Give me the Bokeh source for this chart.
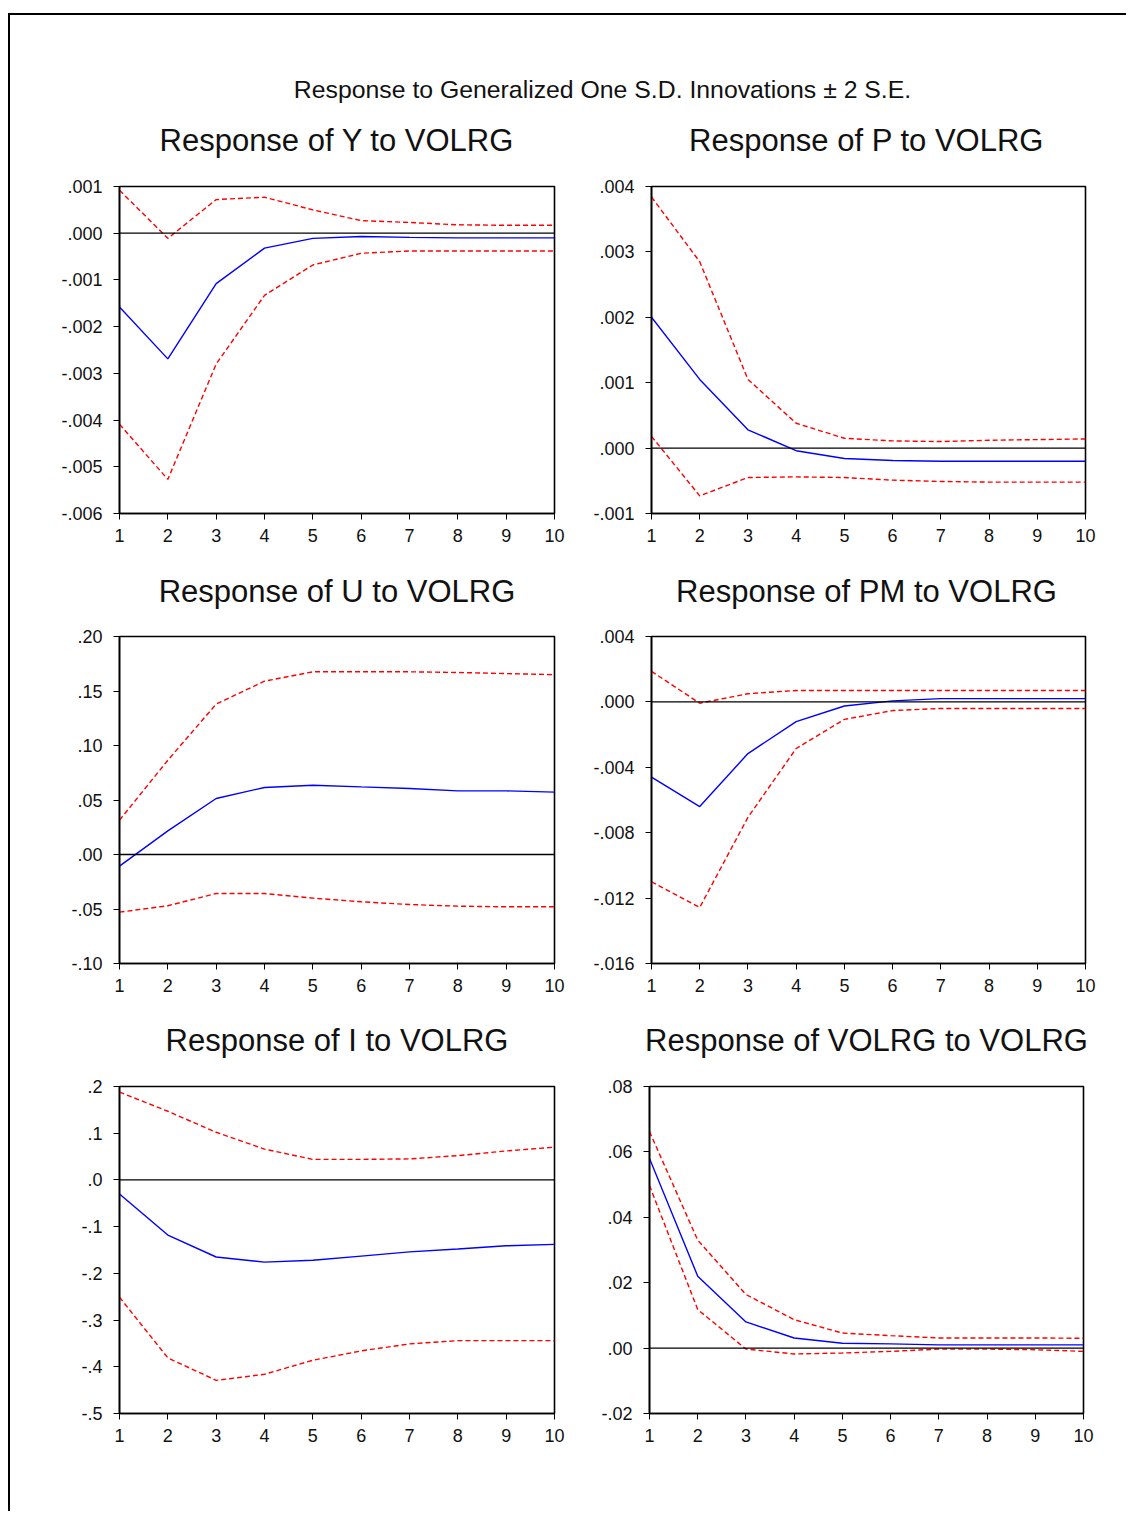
from bokeh.plotting import figure
from bokeh.models import Range1d, FixedTicker, Span, Label
from bokeh.layouts import column, row
from bokeh.embed import file_html
from bokeh.resources import INLINE

# ---------------- data ----------------
periods = [1, 2, 3, 4, 5, 6, 7, 8, 9, 10]
x_tick_labels = ["1", "2", "3", "4", "5", "6", "7", "8", "9", "10"]

suptitle = "Response to Generalized One S.D. Innovations \u00b1 2 S.E."

titles = ["Response of Y to VOLRG", "Response of P to VOLRG",
          "Response of U to VOLRG", "Response of PM to VOLRG",
          "Response of I to VOLRG", "Response of VOLRG to VOLRG"]

# Response of Y
y_resp = [-0.00158, -0.00269, -0.00108, -0.00032, -0.00011, -0.00007, -0.00009, -0.00010, -0.00010, -0.00010]
y_upper = [0.00092, -0.00011, 0.00072, 0.00077, 0.00050, 0.00027, 0.00023, 0.00018, 0.00017, 0.00017]
y_lower = [-0.00409, -0.00527, -0.00280, -0.00133, -0.00068, -0.00043, -0.00038, -0.00038, -0.00038, -0.00038]
y_ticks = [-0.006, -0.005, -0.004, -0.003, -0.002, -0.001, 0.0, 0.001]
y_labels = ["-.006", "-.005", "-.004", "-.003", "-.002", "-.001", ".000", ".001"]

# Response of P
p_resp = [0.00200, 0.00105, 0.00028, -0.00004, -0.00016, -0.00019, -0.00020, -0.00020, -0.00020, -0.00020]
p_upper = [0.00384, 0.00285, 0.00105, 0.00038, 0.00015, 0.00011, 0.00010, 0.00012, 0.00013, 0.00014]
p_lower = [0.00018, -0.00073, -0.00045, -0.00044, -0.00045, -0.00049, -0.00051, -0.00052, -0.00052, -0.00052]
p_ticks = [-0.001, 0.0, 0.001, 0.002, 0.003, 0.004]
p_labels = ["-.001", ".000", ".001", ".002", ".003", ".004"]

# Response of U
u_resp = [-0.0107, 0.0217, 0.0514, 0.0615, 0.0636, 0.0620, 0.0606, 0.0584, 0.0584, 0.0572]
u_upper = [0.0315, 0.0865, 0.1380, 0.1590, 0.1676, 0.1676, 0.1676, 0.1670, 0.1660, 0.1650]
u_lower = [-0.0529, -0.0470, -0.0358, -0.0358, -0.0400, -0.0434, -0.0459, -0.0474, -0.0480, -0.0480]
u_ticks = [-0.10, -0.05, 0.0, 0.05, 0.10, 0.15, 0.20]
u_labels = ["-.10", "-.05", ".00", ".05", ".10", ".15", ".20"]

# Response of PM
pm_resp = [-0.00460, -0.00640, -0.00316, -0.00121, -0.00025, 0.00006, 0.00020, 0.00020, 0.00020, 0.00020]
pm_upper = [0.00187, -0.00008, 0.00050, 0.00070, 0.00070, 0.00070, 0.00070, 0.00070, 0.00070, 0.00070]
pm_lower = [-0.01100, -0.01257, -0.00706, -0.00285, -0.00107, -0.00053, -0.00040, -0.00040, -0.00040, -0.00040]
pm_ticks = [-0.016, -0.012, -0.008, -0.004, 0.0, 0.004]
pm_labels = ["-.016", "-.012", "-.008", "-.004", ".000", ".004"]

# Response of I
i_resp = [-0.030, -0.118, -0.165, -0.176, -0.172, -0.163, -0.154, -0.148, -0.141, -0.138]
i_upper = [0.188, 0.147, 0.102, 0.066, 0.044, 0.044, 0.045, 0.052, 0.062, 0.070]
i_lower = [-0.251, -0.381, -0.429, -0.416, -0.386, -0.366, -0.351, -0.344, -0.344, -0.344]
i_ticks = [-0.5, -0.4, -0.3, -0.2, -0.1, 0.0, 0.1, 0.2]
i_labels = ["-.5", "-.4", "-.3", "-.2", "-.1", ".0", ".1", ".2"]

# Response of VOLRG
v_resp = [0.0580, 0.0220, 0.0080, 0.0031, 0.0015, 0.0013, 0.0010, 0.0010, 0.0010, 0.0010]
v_upper = [0.0662, 0.0330, 0.0164, 0.0087, 0.0046, 0.0038, 0.0031, 0.0031, 0.0031, 0.0030]
v_lower = [0.0497, 0.0118, -0.0003, -0.0018, -0.0015, -0.0010, -0.0003, -0.0003, -0.0005, -0.0010]
v_ticks = [-0.02, 0.0, 0.02, 0.04, 0.06, 0.08]
v_labels = ["-.02", ".00", ".02", ".04", ".06", ".08"]

FONT = "Liberation Sans"
BLUE = "#0000FF"
RED = "#FF0000"
TOTAL_W = 1114


def panel(resp, upper, lower, ticks, labels, left, right, bottom, fw):
    p = figure(frame_width=fw, frame_height=327,
               x_range=Range1d(periods[0], periods[-1]),
               y_range=Range1d(ticks[0], ticks[-1]),
               output_backend="svg", toolbar_location=None,
               min_border_left=left, min_border_right=right,
               min_border_top=10, min_border_bottom=bottom)
    p.xgrid.visible = False
    p.ygrid.visible = False
    p.outline_line_color = "black"
    p.outline_line_width = 1.6
    p.outline_line_alpha = 1.0
    for ax in (p.xaxis[0], p.yaxis[0]):
        ax.axis_line_color = "black"
        ax.axis_line_width = 1.6
        ax.major_tick_line_color = "black"
        ax.major_tick_line_width = 1
        ax.major_tick_out = 6
        ax.major_tick_in = 0
        ax.minor_tick_line_color = None
        ax.major_label_text_font = FONT
        ax.major_label_text_font_size = "18px"
        ax.major_label_text_color = "#111111"
    p.xaxis.ticker = FixedTicker(ticks=periods)
    p.xaxis.major_label_overrides = {t: s for t, s in zip(periods, x_tick_labels)}
    p.xaxis.major_label_standoff = 9
    p.yaxis.ticker = FixedTicker(ticks=ticks)
    p.yaxis.major_label_overrides = {t: s for t, s in zip(ticks, labels)}
    p.yaxis.major_label_standoff = 11
    p.add_layout(Span(location=0, dimension="width", line_color="black", line_width=1.3))
    p.line(periods, upper, line_color=RED, line_width=1.4, line_dash="5 3")
    p.line(periods, lower, line_color=RED, line_width=1.4, line_dash="5 3")
    p.line(periods, resp, line_color=BLUE, line_width=1.4)
    return p


def text_strip(height, items):
    s = figure(width=TOTAL_W, height=height, x_range=Range1d(0, TOTAL_W),
               y_range=Range1d(0, height), output_backend="svg",
               toolbar_location=None, min_border=0)
    s.axis.visible = False
    s.grid.visible = False
    s.outline_line_color = None
    for (x, y, txt, size) in items:
        s.add_layout(Label(x=x, y=y, text=txt, text_align="center",
                           text_baseline="middle", text_font=FONT,
                           text_font_size=size, text_color="#111111"))
    return s


LEFT = dict(left=109, right=36, fw=435)
RIGHT = dict(left=59, right=41, fw=434)
LX = 109 + 435 / 2
RX = 580 + 59 + 434 / 2

p1 = panel(y_resp, y_upper, y_lower, y_ticks, y_labels, bottom=47, **LEFT)
p2 = panel(p_resp, p_upper, p_lower, p_ticks, p_labels, bottom=47, **RIGHT)
p3 = panel(u_resp, u_upper, u_lower, u_ticks, u_labels, bottom=47, **LEFT)
p4 = panel(pm_resp, pm_upper, pm_lower, pm_ticks, pm_labels, bottom=47, **RIGHT)
p5 = panel(i_resp, i_upper, i_lower, i_ticks, i_labels, bottom=98, **LEFT)
p6 = panel(v_resp, v_upper, v_lower, v_ticks, v_labels, bottom=98, **RIGHT)

header = text_strip(95, [(592, 21, suptitle, "24.8px")])
t1 = text_strip(66, [(LX, 36, titles[0], "31px"), (RX, 36, titles[1], "31px")])
t2 = text_strip(66, [(LX, 35, titles[2], "31px"), (RX, 35, titles[3], "31px")])
t3 = text_strip(66, [(LX, 36, titles[4], "31px"), (RX, 36, titles[5], "31px")])

layout = column(header, t1, row(p1, p2), t2, row(p3, p4), t3, row(p5, p6),
                styles={"border-top": "2px solid black", "border-left": "2px solid black",
                        "margin-top": "13px", "margin-left": "8px"})

open("out.html", "w").write(file_html(layout, INLINE))
